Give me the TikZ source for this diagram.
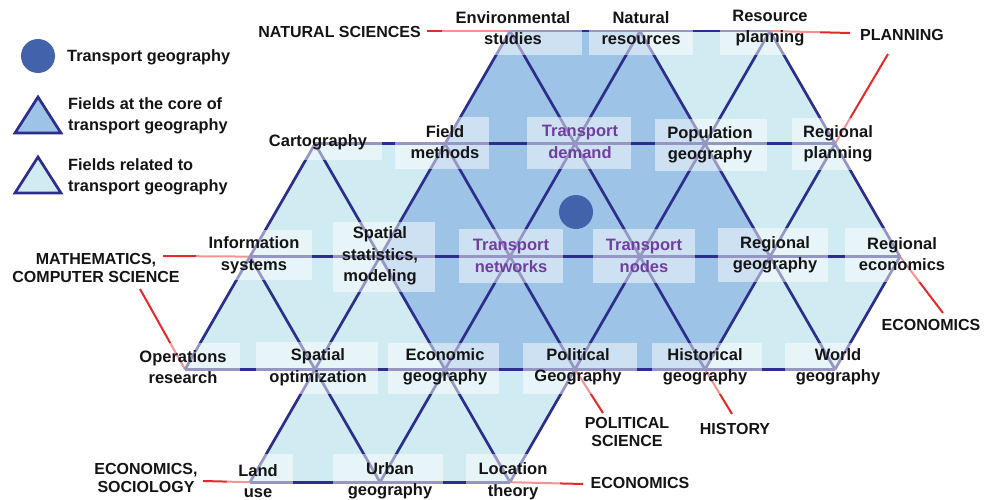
\documentclass[tikz,border=0pt]{standalone}
\usepackage{fontspec}
\setmainfont{Liberation Sans}
\newfontfamily\lblfont{Liberation Sans Bold}
\definecolor{navy}{RGB}{45,45,140}
\definecolor{corefill}{RGB}{157,196,230}
\definecolor{relfill}{RGB}{208,236,242}
\definecolor{dotblue}{RGB}{66,99,172}
\definecolor{linkred}{RGB}{232,40,40}
\definecolor{corepurple}{RGB}{112,62,160}
\definecolor{ink}{RGB}{20,20,20}
\tikzset{
  gridline/.style={draw=navy, line width=2.7pt, line join=round},
  link/.style={draw=linkred, line width=2pt},
  lblbox/.style={fill=white, fill opacity=0.5, draw=none, inner sep=0pt},
  lbl/.style={font=\lblfont\fontsize{16.5}{21.5}\selectfont, align=center, text=ink, inner sep=0pt},
  corelbl/.style={lbl, text=corepurple},
  outer/.style={font=\lblfont\fontsize{16}{18.5}\selectfont, align=center, text=ink, inner sep=0pt},
  legtxt/.style={font=\lblfont\fontsize{16.3}{21}\selectfont, align=left, text=ink, inner sep=0pt, anchor=west},
}
\begin{document}
\begin{tikzpicture}[x=1pt,y=-1pt]
\useasboundingbox (0,0) rectangle (984,500);
% lattice vertices
\coordinate (env) at (510,31);
\coordinate (nat) at (640,31);
\coordinate (res) at (770,31);
\coordinate (carto) at (315,143.8);
\coordinate (field) at (445,143.8);
\coordinate (tdem) at (575,143.8);
\coordinate (pop) at (705,143.8);
\coordinate (rplan) at (835,143.8);
\coordinate (info) at (250,256.6);
\coordinate (sstat) at (380,256.6);
\coordinate (tnet) at (510,256.6);
\coordinate (tnod) at (640,256.6);
\coordinate (rgeo) at (770,256.6);
\coordinate (recon) at (900,256.6);
\coordinate (ops) at (185,369.4);
\coordinate (sopt) at (315,369.4);
\coordinate (econ) at (445,369.4);
\coordinate (pol) at (575,369.4);
\coordinate (hist) at (705,369.4);
\coordinate (world) at (835,369.4);
\coordinate (land) at (250,482.2);
\coordinate (urban) at (380,482.2);
\coordinate (loc) at (510,482.2);
% fills
\fill[relfill] (env)--(res)--(rplan)--(recon)--(world)--(pol)--(loc)--(land)--(sopt)--(ops)--(info)--(carto)--(field)--cycle;
\fill[corefill] (env)--(nat)--(pop)--(rgeo)--(hist)--(econ)--(sstat)--(field)--cycle;
% outer discipline labels and red links
\node[outer, anchor=east] (natsci) at (421,32) {NATURAL SCIENCES};
\node[outer] (plan) at (902,35) {PLANNING};
\node[outer] (math) at (96,268) {MATHEMATICS,\\COMPUTER SCIENCE};
\node[outer] (econR) at (931,325) {ECONOMICS};
\node[outer] (polsci) at (627,432) {POLITICAL\\SCIENCE};
\node[outer] (histy) at (735,429) {HISTORY};
\node[outer] (econB) at (640,483) {ECONOMICS};
\node[outer] (econsoc) at (146,478) {ECONOMICS,\\SOCIOLOGY};
\coordinate (lnat) at (427,31);
\coordinate (lplanA) at (850,33);
\coordinate (lplanB) at (888,54);
\coordinate (lmathA) at (163,256);
\coordinate (lmathB) at (140,289);
\coordinate (leconR) at (943,313);
\coordinate (lpol) at (603,413);
\coordinate (lhist) at (732,414);
\coordinate (leconB) at (583,484);
\coordinate (leconsoc) at (203,481);
\draw[link] (lnat)--(env);
\draw[link] (res)--(lplanA);
\draw[link] (lplanB)--(rplan);
\draw[link] (lmathA)--(info);
\draw[link] (lmathB)--(ops);
\draw[link] (recon)--(leconR);
\draw[link] (pol)--(lpol);
\draw[link] (hist)--(lhist);
\draw[link] (loc)--(leconB);
\draw[link] (leconsoc)--(land);
% lattice lines
\draw[gridline] (env)--(res);
\draw[gridline] (carto)--(rplan);
\draw[gridline] (info)--(recon);
\draw[gridline] (ops)--(world);
\draw[gridline] (land)--(loc);
\draw[gridline] (env)--(tdem)--(tnod)--(hist);
\draw[gridline] (nat)--(pop)--(rgeo)--(world);
\draw[gridline] (res)--(rplan)--(recon);
\draw[gridline] (field)--(tnet)--(pol);
\draw[gridline] (carto)--(sstat)--(econ)--(loc);
\draw[gridline] (info)--(sopt)--(urban);
\draw[gridline] (env)--(field)--(sstat)--(sopt)--(land);
\draw[gridline] (nat)--(tdem)--(tnet)--(econ)--(urban);
\draw[gridline] (res)--(pop)--(tnod)--(pol)--(loc);
\draw[gridline] (rplan)--(rgeo)--(hist);
\draw[gridline] (recon)--(world);
\draw[gridline] (carto)--(info)--(ops);
% label boxes
\node[lblbox, minimum width=140pt, minimum height=50pt] (benv) at (512,30) {};
\node[lblbox, minimum width=104pt, minimum height=50pt] (bnat) at (641,30) {};
\node[lblbox, minimum width=100pt, minimum height=50pt] (bres) at (770,30) {};
\node[lblbox, minimum width=114pt, minimum height=34pt] (bcarto) at (325,143) {};
\node[lblbox, minimum width=94pt, minimum height=52pt] (bfield) at (442,143) {};
\node[lblbox, minimum width=104pt, minimum height=52pt] (btdem) at (579,143) {};
\node[lblbox, minimum width=112pt, minimum height=52pt] (bpop) at (711,145) {};
\node[lblbox, minimum width=80pt, minimum height=52pt] (brplan) at (832,144) {};
\node[lblbox, minimum width=116pt, minimum height=50pt] (binfo) at (254,255) {};
\node[lblbox, minimum width=102pt, minimum height=70pt] (bsstat) at (384,257) {};
\node[lblbox, minimum width=104pt, minimum height=54pt] (btnet) at (511,256) {};
\node[lblbox, minimum width=102pt, minimum height=54pt] (btnod) at (644,256) {};
\node[lblbox, minimum width=110pt, minimum height=54pt] (brgeo) at (773,255) {};
\node[lblbox, minimum width=104pt, minimum height=54pt] (brecon) at (897,255) {};
\node[lblbox, minimum width=114pt, minimum height=50pt] (bops) at (183,368) {};
\node[lblbox, minimum width=122pt, minimum height=52pt] (bsopt) at (317,368) {};
\node[lblbox, minimum width=111pt, minimum height=51pt] (becon) at (443,368) {};
\node[lblbox, minimum width=114pt, minimum height=51pt] (bpol) at (580,368) {};
\node[lblbox, minimum width=110pt, minimum height=51pt] (bhist) at (707,368) {};
\node[lblbox, minimum width=104pt, minimum height=51pt] (bworld) at (837,368) {};
\node[lblbox, minimum width=66pt, minimum height=56pt] (bland) at (260,482) {};
\node[lblbox, minimum width=110pt, minimum height=56pt] (burban) at (388,482) {};
\node[lblbox, minimum width=94pt, minimum height=56pt] (bloc) at (513,482) {};
% transport geography dot
\node[circle, fill=dotblue, minimum size=34pt, inner sep=0pt] (tg) at (576,212) {};
% field labels
\node[lbl] (tenv) at (513,28) {Environmental\\studies};
\node[lbl] (tnat) at (641,28) {Natural\\resources};
\node[lbl] (tres) at (770,28) {Resource\\planning};
\node[lbl] (tcarto) at (318,142) {Cartography};
\node[lbl] (tfield) at (445,142) {Field\\methods};
\node[corelbl] (ttdem) at (580,142) {Transport\\demand};
\node[lbl] (tpop) at (710,145) {Population\\geography};
\node[lbl] (trplan) at (838,144) {Regional\\planning};
\node[lbl] (tinfo) at (254,255) {Information\\systems};
\node[lbl] (tsstat) at (380,256) {Spatial\\statistics,\\modeling};
\node[corelbl] (ttnet) at (511,256) {Transport\\networks};
\node[corelbl] (ttnod) at (644,256) {Transport\\nodes};
\node[lbl] (trgeo) at (775,255) {Regional\\geography};
\node[lbl] (trecon) at (902,254) {Regional\\economics};
\node[lbl] (tops) at (183,367) {Operations\\research};
\node[lbl] (tsopt) at (318,367) {Spatial\\optimization};
\node[lbl] (tecon) at (445,367) {Economic\\geography};
\node[lbl] (tpol) at (578,367) {Political\\Geography};
\node[lbl] (thist) at (705,367) {Historical\\geography};
\node[lbl] (tworld) at (838,367) {World\\geography};
\node[lbl] (tland) at (258,481) {Land\\use};
\node[lbl] (turban) at (390,481) {Urban\\geography};
\node[lbl] (tloc) at (513,481) {Location\\theory};
% legend
\node[circle, fill=dotblue, minimum size=34pt, inner sep=0pt] (legdot) at (38,56) {};
\node[legtxt] (legdottxt) at (67,57) {Transport geography};
\filldraw[fill=corefill, draw=navy, line width=2.7pt, line join=miter] (15,133)--(61,133)--(38,97)--cycle;
\node[legtxt] (legcore) at (68,116) {Fields at the core of\\transport geography};
\filldraw[fill=relfill, draw=navy, line width=2.7pt, line join=miter] (15,193)--(61,193)--(38,157)--cycle;
\node[legtxt] (legrel) at (68,177) {Fields related to\\transport geography};
\end{tikzpicture}
\end{document}
